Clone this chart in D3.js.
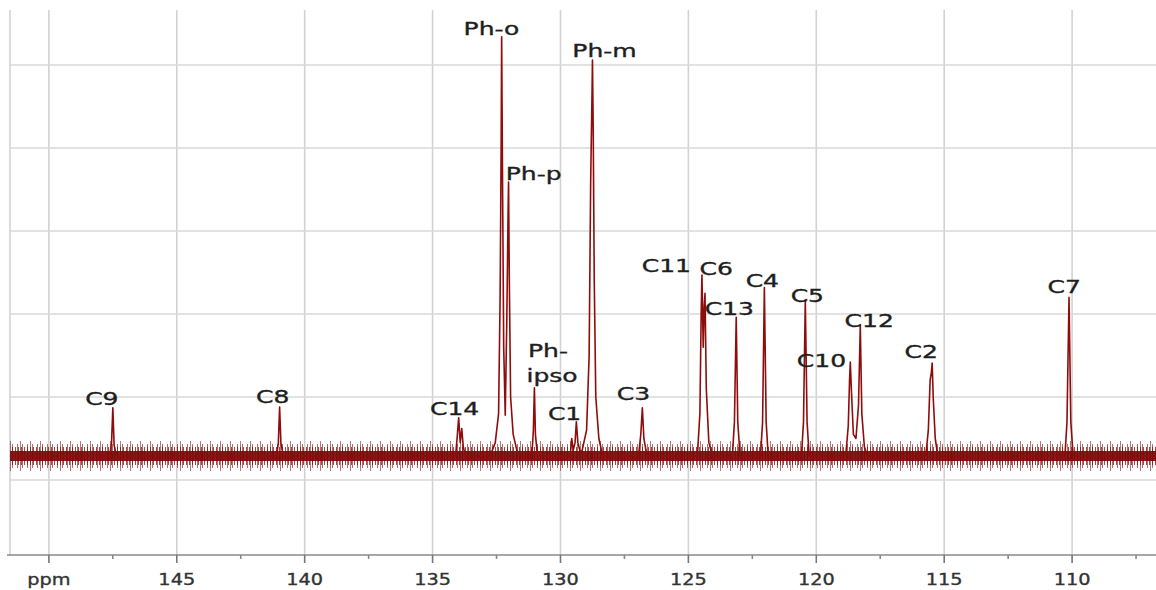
<!DOCTYPE html>
<html>
<head>
<meta charset="utf-8">
<script src="https://cdn.jsdelivr.net/npm/d3@7"></script>
<style>
  html, body { margin: 0; padding: 0; background: #fff; }
  svg { display: block; }
</style>
</head>
<body>
<svg id="chart" width="1156" height="590"></svg>
<script>
// ---------------- data ----------------
// x axis ticks (ppm); 150 is shown as the unit label "ppm"
const xTicks = [150, 145, 140, 135, 130, 125, 120, 115, 110];
const xMinorTicks = [147.5, 142.5, 137.5, 132.5, 127.5, 122.5, 117.5, 112.5, 107.5];
const yGridValues = [0, 1, 2, 3, 4, 5];

// baseline level of the noisy spectrum (intensity units)
const baselineLevel = 0.29;

// spectrum vertices: [ppm, intensity]
const spectrumPpm = [
  151.5,
  147.62, 147.55, 147.50, 147.45, 147.36,
  141.10, 141.03, 140.98, 140.93, 140.84,
  134.10, 134.03, 133.98, 133.92, 133.86, 133.80, 133.72,
  132.75, 132.55, 132.42, 132.36, 132.32, 132.30, 132.27, 132.22, 132.16, 132.10, 132.05, 132.03, 132.00, 131.95, 131.85, 131.70, 131.50,
  131.12, 131.06, 131.02, 130.98, 130.90,
  129.62, 129.56, 129.50, 129.43, 129.38, 129.32, 129.22,
  129.15, 128.98, 128.88, 128.82, 128.77, 128.75, 128.72, 128.68, 128.62, 128.50, 128.35,
  126.95, 126.86, 126.80, 126.74, 126.62,
  124.65, 124.55, 124.50, 124.47, 124.42, 124.38, 124.35, 124.30, 124.20, 124.05,
  123.28, 123.20, 123.13, 123.07, 122.98,
  122.18, 122.10, 122.03, 121.96, 121.88,
  120.58, 120.50, 120.43, 120.36, 120.28,
  118.85, 118.75, 118.70, 118.67, 118.63, 118.55, 118.45, 118.35, 118.28, 118.22, 118.12, 118.00,
  115.72, 115.62, 115.55, 115.50, 115.47, 115.43, 115.35, 115.25,
  110.28, 110.20, 110.12, 110.05, 109.96,
  106.7
];
const spectrumInt = [
  0.29,
  0.29, 0.45, 0.87, 0.42, 0.29,
  0.29, 0.45, 0.88, 0.45, 0.29,
  0.29, 0.55, 0.75, 0.45, 0.62, 0.40, 0.29,
  0.29, 0.45, 0.80, 2.20, 4.00, 5.34, 3.80, 1.60, 0.78, 1.90, 3.20, 3.59, 2.40, 1.00, 0.55, 0.35, 0.29,
  0.29, 0.60, 1.11, 0.55, 0.29,
  0.29, 0.50, 0.36, 0.45, 0.70, 0.45, 0.33,
  0.36, 0.60, 1.50, 3.60, 4.60, 5.06, 4.20, 2.40, 1.00, 0.50, 0.29,
  0.29, 0.55, 0.87, 0.50, 0.29,
  0.29, 0.80, 2.00, 2.47, 1.60, 2.10, 2.25, 1.10, 0.45, 0.29,
  0.29, 0.70, 1.96, 0.70, 0.29,
  0.29, 0.70, 2.32, 0.70, 0.29,
  0.29, 0.70, 2.17, 0.70, 0.29,
  0.29, 0.65, 1.20, 1.42, 1.10, 0.55, 0.50, 0.90, 1.86, 0.80, 0.40, 0.29,
  0.29, 0.60, 1.20, 1.30, 1.41, 1.00, 0.50, 0.29,
  0.29, 0.70, 2.20, 0.70, 0.29,
  0.29
];

// peak labels: text, ppm (centre), intensity (text baseline)
const labelText = ["C9", "C8", "C14", "Ph-o", "Ph-p", "Ph-", "ipso", "C1", "Ph-m", "C3",
                   "C11", "C6", "C13", "C4", "C5", "C10", "C12", "C2", "C7"];
const labelPpm  = [147.93, 141.25, 134.14, 132.70, 131.05, 130.49, 130.33, 129.84, 128.28, 127.15,
                   125.86, 123.91, 123.40, 122.11, 120.35, 119.80, 117.93, 115.90, 110.31];
const labelInt  = [0.904, 0.928, 0.783, 5.36, 3.61, 1.48, 1.18, 0.72, 5.10, 0.96,
                   2.51, 2.47, 1.99, 2.33, 2.14, 1.36, 1.84, 1.47, 2.25];

// ---------------- drawing ----------------
const W = 1156, H = 590;
const plot = { left: 10, right: 1156, top: 10, bottom: 555 };

const svg = d3.select("#chart");

const x = d3.scaleLinear().domain([151.52, 106.72]).range([plot.left, plot.right]);
const y = d3.scaleLinear().domain([-0.904, 5.663]).range([plot.bottom, plot.top]);

const grid = svg.append("g");
// vertical gridlines
grid.selectAll("line.v").data(xTicks).join("line")
  .attr("x1", d => x(d)).attr("x2", d => x(d))
  .attr("y1", plot.top).attr("y2", plot.bottom)
  .attr("stroke", "#d2d2d2").attr("stroke-width", 1.6);
// left frame line
grid.append("line")
  .attr("x1", plot.left).attr("x2", plot.left)
  .attr("y1", plot.top).attr("y2", plot.bottom)
  .attr("stroke", "#d2d2d2").attr("stroke-width", 1.6);
// horizontal gridlines
grid.selectAll("line.h").data(yGridValues).join("line")
  .attr("x1", plot.left).attr("x2", plot.right)
  .attr("y1", d => y(d)).attr("y2", d => y(d))
  .attr("stroke", "#d9d9d9").attr("stroke-width", 1.6);

// noise band along the baseline (textured strokes)
const band = svg.append("g");
const bandStyles = [
  { w: 30, dash: "1 9",  col: "#7d0a0a", op: 0.55, off: 0 },
  { w: 24, dash: "1 4",  col: "#7d0a0a", op: 0.6,  off: 3 },
  { w: 18, dash: "1 2",  col: "#7d0a0a", op: 0.75, off: 1 },
  { w: 10, dash: null,   col: "#7a0808", op: 0.92, off: 0 }
];
bandStyles.forEach(s => {
  band.append("line")
    .attr("x1", x(151.52)).attr("x2", x(106.72))
    .attr("y1", y(baselineLevel)).attr("y2", y(baselineLevel))
    .attr("stroke", s.col).attr("stroke-opacity", s.op).attr("stroke-width", s.w)
    .attr("stroke-dasharray", s.dash)
    .attr("stroke-dashoffset", s.off);
});

// spectrum
const spectrum = spectrumPpm.map((p, i) => [p, spectrumInt[i]]);
const line = d3.line().x(d => x(d[0])).y(d => y(d[1]));
svg.append("path")
  .datum(spectrum)
  .attr("d", line)
  .attr("fill", "none")
  .attr("stroke", "#8e0c0c")
  .attr("stroke-width", 1.6)
  .attr("stroke-linejoin", "round");

// x axis
const axisG = svg.append("g").attr("transform", `translate(0,${plot.bottom})`);
axisG.append("line")
  .attr("x1", 7).attr("x2", W)
  .attr("stroke", "#8a8a8a").attr("stroke-width", 1.6);
axisG.selectAll("line.major").data(xTicks).join("line")
  .attr("x1", d => x(d)).attr("x2", d => x(d))
  .attr("y1", 0).attr("y2", 8)
  .attr("stroke", "#777").attr("stroke-width", 1.6);
axisG.selectAll("line.minor").data(xMinorTicks).join("line")
  .attr("x1", d => x(d)).attr("x2", d => x(d))
  .attr("y1", 0).attr("y2", 4)
  .attr("stroke", "#888").attr("stroke-width", 1.6);
axisG.selectAll("text").data(xTicks).join("text")
  .attr("transform", d => `translate(${x(d)},30) scale(1.17,1)`)
  .attr("text-anchor", "middle")
  .attr("font-family", "DejaVu Sans, Verdana, sans-serif")
  .attr("font-size", 16.5)
  .attr("fill", "#333")
  .attr("stroke", "#333").attr("stroke-width", 0.35)
  .text(d => d === 150 ? "ppm" : d3.format("d")(d));

// peak labels
svg.append("g").selectAll("text").data(labelText).join("text")
  .attr("transform", (d, i) => `translate(${x(labelPpm[i])},${y(labelInt[i])}) scale(1.43,1)`)
  .attr("text-anchor", "middle")
  .attr("font-family", "DejaVu Sans, Verdana, sans-serif")
  .attr("font-size", 17.5)
  .attr("fill", "#1e1e1e")
  .attr("stroke", "#1e1e1e").attr("stroke-width", 0.35)
  .text(d => d);
</script>
</body>
</html>
